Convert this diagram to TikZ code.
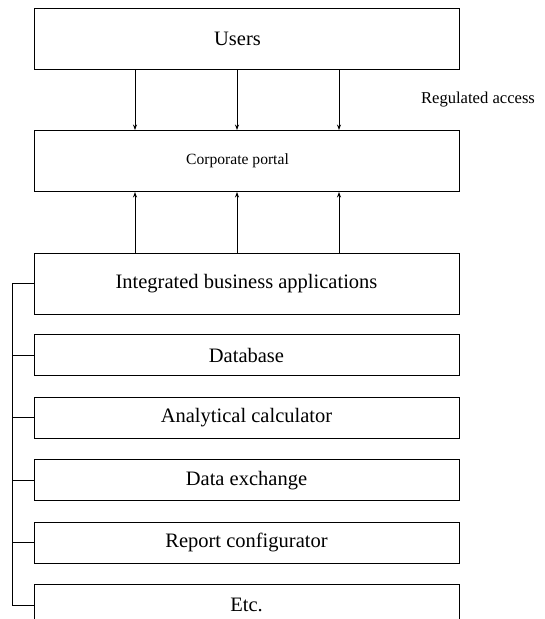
\documentclass[tikz,border=0pt]{standalone}
\usepackage{fontspec}
\setmainfont{Liberation Serif}
\usetikzlibrary{arrows.meta,positioning}
\begin{document}
\begin{tikzpicture}[x=1pt,y=-1pt,
    box/.style={draw,line width=.9pt,minimum width=425pt,minimum height=61pt,
      inner sep=0pt,font=\fontsize{20.5}{24}\selectfont},
    sub/.style={box,minimum height=41pt},
    >={Stealth[length=5.5pt,width=4pt]}]
  \useasboundingbox (0,0) rectangle (544,619);
  \node[box] (users) at (246.5,38.5) {\hspace*{-18pt}Users};
  \node[box,font=\fontsize{15.6}{18}\selectfont] (portal) at (246.5,161) {\hspace*{-18pt}Corporate portal};
  \node[font=\fontsize{16.6}{20}\selectfont] (access) at (478,100) {Regulated access};
  \node[box] (iba) at (246.5,283.5) {Integrated business applications};
  \node[sub,below=20pt of iba] (db) {Database};
  \node[sub,below=20.5pt of db] (calc) {Analytical calculator};
  \node[sub,below=20.5pt of calc] (exch) {Data exchange};
  \node[sub,below=20.5pt of exch] (report) {Report configurator};
  \node[sub,below=20.5pt of report] (etc) {Etc.};
  \foreach \dx in {-111.5,-9.5,92.5} {
    \draw[line width=.8pt,->] ([xshift=\dx pt]users.south) -- ([xshift=\dx pt]portal.north);
    \draw[line width=.8pt,->] ([xshift=\dx pt]iba.north) -- ([xshift=\dx pt]portal.south);
  }
  \draw[line width=.8pt] (iba.west) -- ++(-21,0) |- (etc.west);
  \foreach \n in {db,calc,exch,report}
    \draw[line width=.8pt] (\n.west) -- ++(-21,0);
\end{tikzpicture}
\end{document}
